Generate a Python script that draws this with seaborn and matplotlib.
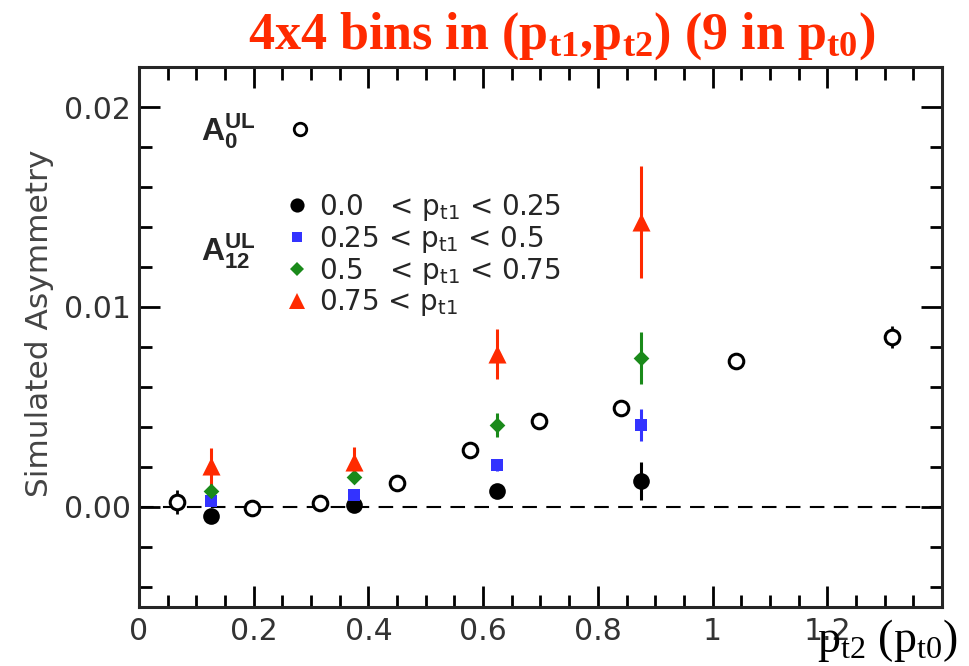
import numpy as np
import pandas as pd
import matplotlib
matplotlib.use("Agg")
import matplotlib.pyplot as plt
from matplotlib.ticker import MultipleLocator, FuncFormatter
from matplotlib.lines import Line2D
import seaborn as sns

# ---------------- data ----------------
x_open = [0.067, 0.197, 0.316, 0.45, 0.577, 0.698, 0.84, 1.04, 1.312]
y_open = [0.00025, -0.00005, 0.0002, 0.0012, 0.00285, 0.0043, 0.00495, 0.0073, 0.0085]
e_open = [0.0006, 0.0002, 0.0002, 0.0002, 0.0002, 0.0002, 0.0002, 0.0004, 0.00055]

x_bins = [0.125, 0.375, 0.625, 0.875]
y_s1 = [-0.00045, 0.0001, 0.0008, 0.0013]
e_s1 = [0.0002, 0.0002, 0.0003, 0.00095]
y_s2 = [0.0003, 0.0006, 0.0021, 0.0041]
e_s2 = [0.0002, 0.0002, 0.0003, 0.0008]
y_s3 = [0.0008, 0.0015, 0.0041, 0.00745]
e_s3 = [0.0004, 0.0003, 0.0006, 0.0013]
y_s4 = [0.00205, 0.00225, 0.00765, 0.01425]
e_s4 = [0.0009, 0.00075, 0.00125, 0.0028]

series_labels = [
    r"0.0   < $\mathregular{p_{t1}}$ < 0.25",
    r"0.25 < $\mathregular{p_{t1}}$ < 0.5",
    r"0.5   < $\mathregular{p_{t1}}$ < 0.75",
    r"0.75 < $\mathregular{p_{t1}}$",
]
title_text = r"4x4 bins in ($\mathregular{p_{t1}}$,$\mathregular{p_{t2}}$) (9 in $\mathregular{p_{t0}}$)"
ylabel_text = "Simulated Asymmetry"
xlabel_text = r"$\mathregular{p_{t2}}$ ($\mathregular{p_{t0}}$)"

# ---------------- style ----------------
sns.set_theme(style="ticks")
plt.rcParams["font.family"] = ["DejaVu Sans", "Liberation Sans"]

colors = ["#000000", "#3333FF", "#1A8A1A", "#FF2A00"]
markers = ["o", "s", "D", "^"]
msizes = [12, 9, 8, 13]

df = pd.DataFrame({
    "x": x_bins * 4,
    "y": y_s1 + y_s2 + y_s3 + y_s4,
    "err": e_s1 + e_s2 + e_s3 + e_s4,
    "series": sum([[lab] * 4 for lab in series_labels], []),
})
df_open = pd.DataFrame({"x": x_open, "y": y_open, "err": e_open})

fig = plt.figure(figsize=(9.7, 6.66), dpi=100)
ax = fig.add_axes([139 / 970, 1 - 607 / 666, (942 - 139) / 970, (607 - 67) / 666])

ax.axhline(0, color="black", lw=1.5, dashes=(7, 4.5), zorder=1)

# open circles
ax.errorbar(df_open["x"], df_open["y"], yerr=df_open["err"], fmt="none",
            ecolor="black", elinewidth=2, capsize=0, zorder=2)
sns.scatterplot(data=df_open, x="x", y="y", ax=ax, marker="o", s=110,
                facecolors="white", edgecolor="black", linewidth=2.2, zorder=3,
                legend=False)

# filled series
for lab, c, m, ms in zip(series_labels, colors, markers, msizes):
    sub = df[df["series"] == lab]
    ax.errorbar(sub["x"], sub["y"], yerr=sub["err"], fmt="none",
                ecolor=c, elinewidth=2.2, capsize=0, zorder=4)
    sns.scatterplot(data=sub, x="x", y="y", ax=ax, marker=m, s=ms ** 2,
                    color=c, linewidth=0, zorder=5, legend=False)

ax.set_xlim(0, 1.4)
ax.set_ylim(-0.005, 0.022)
ax.set_xlabel("")
ax.set_ylabel("")

ax.xaxis.set_major_locator(MultipleLocator(0.2))
ax.xaxis.set_minor_locator(MultipleLocator(0.05))
ax.yaxis.set_major_locator(MultipleLocator(0.01))
ax.yaxis.set_minor_locator(MultipleLocator(0.002))
ax.xaxis.set_major_formatter(FuncFormatter(lambda v, p: f"{v:g}" if v < 1.3 else ""))
ax.yaxis.set_major_formatter(FuncFormatter(lambda v, p: f"{v:.2f}"))

for s in ax.spines.values():
    s.set_linewidth(2.2)
    s.set_visible(True)
ax.tick_params(which="both", direction="in", top=True, right=True,
               width=2.0, color="black", labelsize=21.5, labelcolor="#333333")
ax.tick_params(which="major", length=15)
ax.tick_params(which="minor", length=9)
ax.tick_params(axis="x", which="major", pad=7)
ax.tick_params(axis="y", which="major", pad=6)

# legend for series
handles = [Line2D([], [], linestyle="none", marker=m, markersize=ms * 0.85,
                  markerfacecolor=c, markeredgewidth=0, color=c)
           for c, m, ms in zip(colors, markers, msizes)]
leg = ax.legend(handles, series_labels, loc="upper left",
                bbox_to_anchor=(286 / 970, 1 - 192 / 666),
                bbox_transform=fig.transFigure, frameon=False, fontsize=20,
                handlelength=0.8, handletextpad=0.4, labelspacing=0.03,
                borderpad=0, borderaxespad=0)
ax.add_artist(leg)

# A0 legend entry (label then marker)
h0 = Line2D([], [], linestyle="none", marker="o", markersize=9,
            markerfacecolor="white", markeredgecolor="black", markeredgewidth=2)
leg0 = ax.legend([h0], [r"$\mathregular{A_{0}^{UL}}$"], loc="center left",
                 bbox_to_anchor=(201 / 970, 1 - 131 / 666),
                 bbox_transform=fig.transFigure, frameon=False,
                 prop={"size": 23, "weight": "bold",
                       "family": ["Liberation Sans", "DejaVu Sans"]},
                 markerfirst=False, handlelength=0.8, handletextpad=1.0,
                 borderpad=0, borderaxespad=0)

fig.text(201 / 970, 1 - 251 / 666, r"$\mathregular{A_{12}^{UL}}$",
         fontsize=23, fontweight="bold", family=["Liberation Sans", "DejaVu Sans"],
         ha="left", va="center")

fig.text(40 / 970, 1 - 323 / 666, ylabel_text, rotation=90, fontsize=22.5,
         color="#444444", ha="center", va="center")

fig.text(562 / 970, 1 - 36 / 666, title_text, fontsize=37.5, fontweight="bold",
         color="#FF2A00", family=["Liberation Serif", "DejaVu Serif"],
         ha="center", va="center")

fig.text(958 / 970, 1 - 641 / 666, xlabel_text, fontsize=33,
         family=["Liberation Serif", "DejaVu Serif"], ha="right",
         va="center", color="black")

fig.savefig("out.png", dpi=100)
